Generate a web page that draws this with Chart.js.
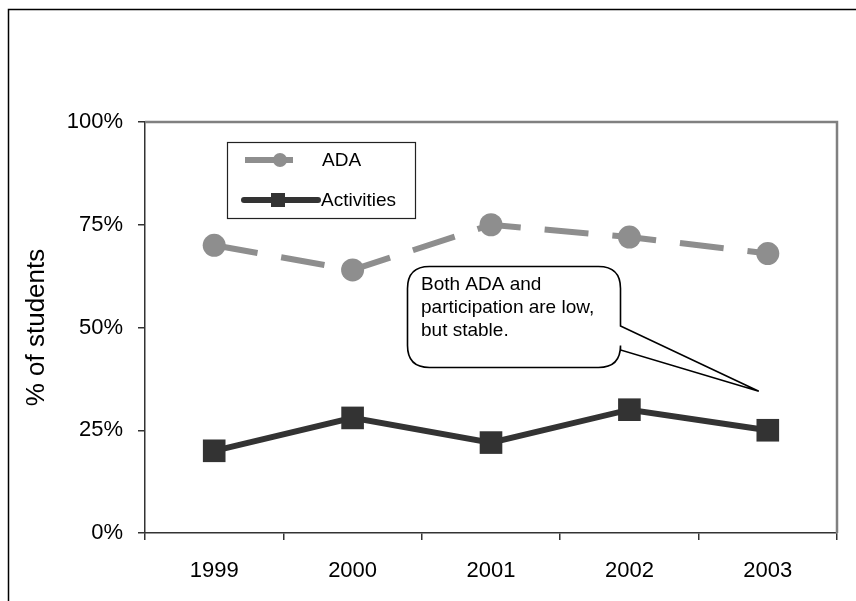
<!DOCTYPE html>
<html>
<head>
<meta charset="utf-8">
<script src="https://cdn.jsdelivr.net/npm/chart.js@4.4.1/dist/chart.umd.min.js"></script>
<style>
  html, body { margin: 0; padding: 0; background: #ffffff; }
  #wrap { width: 856px; height: 601px; position: relative; }
</style>
</head>
<body>
<div id="wrap"><canvas id="c" width="856" height="601"></canvas></div>
<script>
const categories = ['1999', '2000', '2001', '2002', '2003'];
const adaValues = [70, 64, 75, 72, 68];
const activitiesValues = [20, 28, 22, 30, 25];
const yTickValues = [0, 25, 50, 75, 100];
const seriesNames = ['ADA', 'Activities'];
const yAxisTitle = '% of students';
const calloutLines = ['Both ADA and', 'participation are low,', 'but stable.'];

const FONT = '"Liberation Sans", Arial, sans-serif';
const ADA_COLOR = '#8e8e8e';
const ACT_COLOR = '#333333';

const framePlugin = {
  id: 'frame',
  beforeDraw(chart) {
    const ctx = chart.ctx;
    ctx.save();
    ctx.fillStyle = '#ffffff';
    ctx.fillRect(0, 0, chart.width, chart.height);
    ctx.strokeStyle = '#000000';
    ctx.lineWidth = 1.5;
    ctx.strokeRect(8.5, 9.5, chart.width + 40, chart.height + 40);
    ctx.restore();
  },
  beforeDatasetsDraw(chart) {
    const ctx = chart.ctx;
    const a = chart.chartArea;
    ctx.save();
    ctx.strokeStyle = '#808080';
    ctx.lineWidth = 2.5;
    ctx.beginPath();
    ctx.moveTo(a.left, a.top);
    ctx.lineTo(a.right, a.top);
    ctx.lineTo(a.right, a.bottom);
    ctx.stroke();
    ctx.restore();
  }
};

const legendPlugin = {
  id: 'boxLegend',
  afterDraw(chart) {
    const ctx = chart.ctx;
    const a = chart.chartArea;
    const bx = a.left + 82, by = a.top + 20, bw = 188, bh = 76;
    ctx.save();
    ctx.strokeStyle = '#222222';
    ctx.lineWidth = 1.2;
    ctx.strokeRect(bx + 0.5, by + 0.5, bw, bh);
    // ADA row
    let y = by + 18;
    ctx.strokeStyle = ADA_COLOR;
    ctx.lineWidth = 6;
    ctx.beginPath();
    ctx.moveTo(bx + 18, y);
    ctx.lineTo(bx + 66, y);
    ctx.stroke();
    ctx.fillStyle = ADA_COLOR;
    ctx.beginPath();
    ctx.arc(bx + 53, y, 7, 0, Math.PI * 2);
    ctx.fill();
    ctx.fillStyle = '#000000';
    ctx.font = '19px ' + FONT;
    ctx.textBaseline = 'middle';
    ctx.textAlign = 'left';
    ctx.fillText(seriesNames[0], bx + 95, y + 1);
    // Activities row
    y = by + 58;
    ctx.strokeStyle = ACT_COLOR;
    ctx.lineWidth = 6;
    ctx.lineCap = 'round';
    ctx.beginPath();
    ctx.moveTo(bx + 17, y);
    ctx.lineTo(bx + 91, y);
    ctx.stroke();
    ctx.fillStyle = ACT_COLOR;
    ctx.fillRect(bx + 44, y - 7, 14, 14);
    ctx.fillStyle = '#000000';
    ctx.fillText(seriesNames[1], bx + 94, y + 1);
    ctx.restore();
  }
};

const calloutPlugin = {
  id: 'callout',
  afterDraw(chart) {
    const ctx = chart.ctx;
    const xs = chart.scales.x, ys = chart.scales.y;
    const tipX = xs.getPixelForValue(4) - 9;
    const tipY = ys.getPixelForValue(34.5);
    const l = 407.5, t = 266.5, r = 620.5, b = 367.5, rad = 22;
    ctx.save();
    ctx.beginPath();
    ctx.moveTo(l + rad, t);
    ctx.lineTo(r - rad, t);
    ctx.quadraticCurveTo(r, t, r, t + rad);
    ctx.lineTo(r, 326);
    ctx.lineTo(tipX, tipY);
    ctx.lineTo(r, 350);
    ctx.lineTo(r, b - rad);
    ctx.quadraticCurveTo(r, b, r - rad, b);
    ctx.lineTo(l + rad, b);
    ctx.quadraticCurveTo(l, b, l, b - rad);
    ctx.lineTo(l, t + rad);
    ctx.quadraticCurveTo(l, t, l + rad, t);
    ctx.closePath();
    ctx.fillStyle = '#ffffff';
    ctx.fill();
    ctx.strokeStyle = '#000000';
    ctx.lineWidth = 1.6;
    ctx.stroke();
    ctx.fillStyle = '#000000';
    ctx.font = '19px ' + FONT;
    ctx.textAlign = 'left';
    ctx.textBaseline = 'alphabetic';
    calloutLines.forEach((s, i) => ctx.fillText(s, 421, 290 + i * 23));
    ctx.restore();
  }
};

new Chart(document.getElementById('c'), {
  type: 'line',
  data: {
    labels: categories,
    datasets: [
      {
        label: seriesNames[0],
        data: adaValues,
        borderColor: ADA_COLOR,
        backgroundColor: ADA_COLOR,
        borderWidth: 6,
        borderDash: [44, 24],
        pointStyle: 'circle',
        pointRadius: 11.5,
        pointBorderWidth: 0,
        pointBackgroundColor: ADA_COLOR,
        tension: 0,
        fill: false
      },
      {
        label: seriesNames[1],
        data: activitiesValues,
        borderColor: ACT_COLOR,
        backgroundColor: ACT_COLOR,
        borderWidth: 6,
        pointStyle: 'rect',
        pointRadius: 16,
        pointBorderWidth: 0,
        pointBackgroundColor: ACT_COLOR,
        tension: 0,
        fill: false
      }
    ]
  },
  options: {
    responsive: false,
    animation: false,
    devicePixelRatio: 1,
    layout: { padding: { left: 0, top: 122, right: 19, bottom: 0 } },
    plugins: {
      legend: { display: false },
      tooltip: { enabled: false },
      title: { display: false }
    },
    scales: {
      x: {
        type: 'category',
        offset: true,
        grid: {
          offset: true,
          drawOnChartArea: false,
          drawTicks: true,
          tickLength: 7,
          color: '#333333',
          lineWidth: 1.5
        },
        border: { display: true, color: '#333333', width: 1.5 },
        ticks: {
          color: '#000000',
          font: { family: FONT, size: 22 },
          padding: 18,
          maxRotation: 0
        },
        afterFit(scale) { scale.height = 68; }
      },
      y: {
        min: 0,
        max: 100,
        afterBuildTicks(scale) { scale.ticks = yTickValues.map(v => ({ value: v })); },
        grid: {
          drawOnChartArea: false,
          drawTicks: true,
          tickLength: 7,
          color: '#333333',
          lineWidth: 1.5
        },
        border: { display: true, color: '#333333', width: 1.5 },
        ticks: {
          color: '#000000',
          font: { family: FONT, size: 22 },
          padding: 15,
          callback: v => v + '%'
        },
        title: {
          display: true,
          text: yAxisTitle,
          color: '#000000',
          font: { family: FONT, size: 26 },
          padding: { top: 21, bottom: 0 }
        },
        afterFit(scale) { scale.width = 145; }
      }
    }
  },
  plugins: [framePlugin, legendPlugin, calloutPlugin]
});
</script>
</body>
</html>
